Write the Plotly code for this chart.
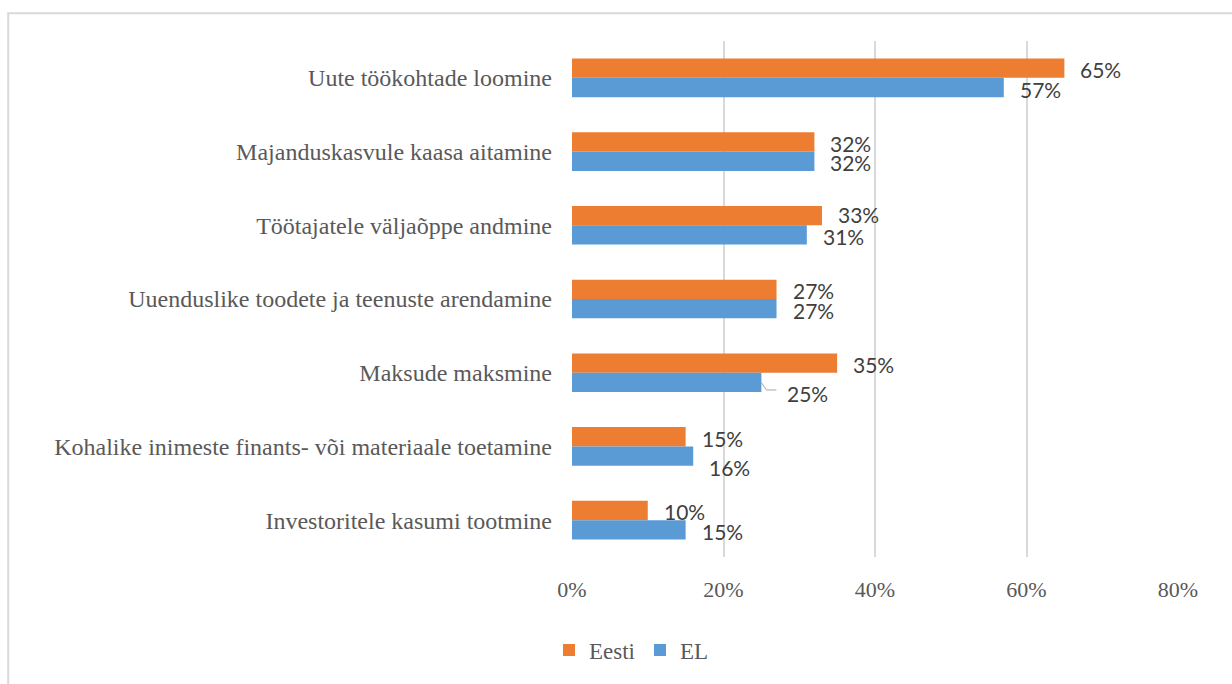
import plotly.graph_objects as go

# ---------------- data ----------------
categories = [
    "Uute töökohtade loomine",
    "Majanduskasvule kaasa aitamine",
    "Töötajatele väljaõppe andmine",
    "Uuenduslike toodete ja teenuste arendamine",
    "Maksude maksmine",
    "Kohalike inimeste finants- või materiaale toetamine",
    "Investoritele kasumi tootmine",
]
eesti = [0.65, 0.32, 0.33, 0.27, 0.35, 0.15, 0.10]
el = [0.57, 0.32, 0.31, 0.27, 0.25, 0.16, 0.15]
series_names = ["Eesti", "EL"]
x_ticks = [0, 0.2, 0.4, 0.6, 0.8]

# ---------------- style ----------------
W, H = 1232, 684
PL, PR, PT, PB = 572.0, 1177.7, 40.5, 562.0   # plot area in pixels
ORANGE, BLUE = "#ED7D31", "#5B9BD5"
GRID = "#D9D9D9"
AXIS_TXT = "#595959"
LBL_TXT = "#404040"
SERIF = "Liberation Serif, Times New Roman, serif"
SANS = "Lato, Open Sans, sans-serif"
BARGAP = 0.476
# per-label manual nudges (pixels) like the hand-placed labels in the original
nudge = {("EL", 4): (25, -9.5), ("EL", 5): (15, -10), ("Eesti", 2): (15, 3)}
BASE_DX = 15
BASE_DY = -1.5


def px2x(px):
    return (px - PL) / (PR - PL)


def px2y(py):
    return (PB - py) / (PB - PT)


fig = go.Figure()
for name, vals, col in [(series_names[0], eesti, ORANGE), (series_names[1], el, BLUE)]:
    fig.add_trace(go.Bar(
        name=name, y=categories, x=vals, orientation="h",
        marker=dict(color=col, line=dict(width=0)),
        hoverinfo="skip",
    ))

# bar half-height in pixels (two bars per category)
cat_px = (PB - PT) / len(categories)
half_bar = cat_px * (1 - BARGAP) / 4

annotations = []
for name, vals, sgn in [(series_names[0], eesti, 1), (series_names[1], el, -1)]:
    for i, (c, v) in enumerate(zip(categories, vals)):
        dx, dy = nudge.get((name, i), (BASE_DX, 0))
        annotations.append(dict(
            x=v, y=c, xref="x", yref="y", text=f"{round(v*100)}%",
            showarrow=False, xanchor="left", yanchor="middle",
            xshift=dx, yshift=sgn * half_bar + dy + BASE_DY, borderpad=0,
            font=dict(family=SANS, size=21, color=LBL_TXT),
        ))

shapes = [
    # chart-area border (extends beyond the visible window on right/bottom)
    dict(type="rect", xref="paper", yref="paper",
         x0=px2x(8.5), x1=px2x(1300), y0=px2y(12.5), y1=px2y(760),
         line=dict(color=GRID, width=2), fillcolor="rgba(0,0,0,0)", layer="below"),
    # leader line for the moved 25% label
    dict(type="path", xref="x", yref="y",
         xsizemode="pixel", ysizemode="pixel",
         xanchor=el[4], yanchor=categories[4],
         path=f"M0,{-half_bar} L5,{-half_bar-7.5} L15,{-half_bar-7.5}",
         line=dict(color="#A6A6A6", width=1)),
]

fig.update_layout(
    width=W, height=H, autosize=False,
    margin=dict(l=PL, r=W - PR, t=PT, b=H - PB, pad=0),
    paper_bgcolor="white", plot_bgcolor="white",
    barmode="group", bargap=BARGAP, bargroupgap=0,
    showlegend=True,
    legend=dict(
        orientation="h", x=px2x(549), xanchor="left",
        y=px2y(656), yanchor="middle",
        font=dict(family=SERIF, size=23, color=AXIS_TXT),
        traceorder="normal", itemwidth=30, bgcolor="rgba(0,0,0,0)",
    ),
    annotations=annotations,
    shapes=shapes,
    xaxis=dict(
        range=[0, 0.8], tickvals=x_ticks, tickformat=".0%",
        showgrid=True, gridcolor=GRID, gridwidth=1.5,
        zeroline=False, showline=False, ticks="",
        ticklabelstandoff=17,
        tickfont=dict(family=SERIF, size=22, color=AXIS_TXT),
        fixedrange=True,
    ),
    yaxis=dict(
        type="category", autorange="reversed",
        showgrid=False, zeroline=False, showline=False, ticks="",
        ticklabelstandoff=19,
        tickfont=dict(family=SERIF, size=24, color=AXIS_TXT),
        fixedrange=True,
    ),
)

fig.write_html("out.html")
